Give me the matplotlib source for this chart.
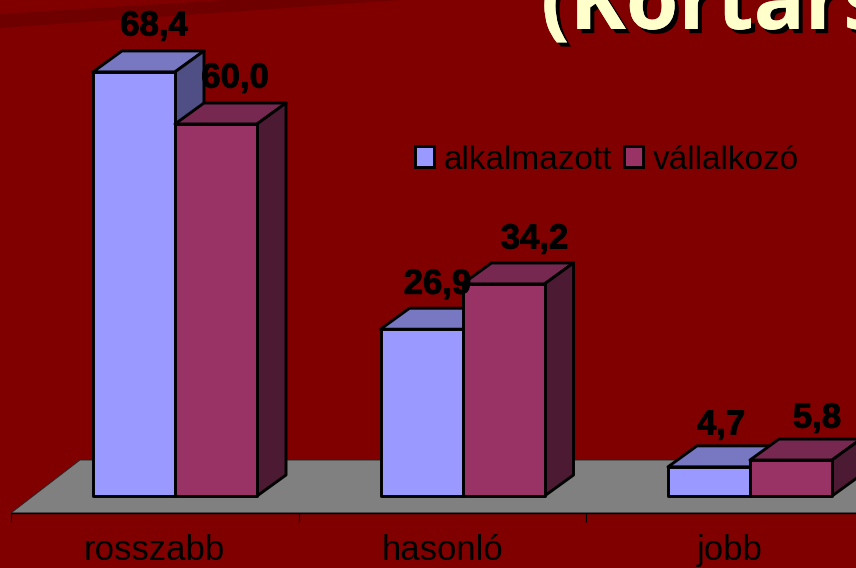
import matplotlib

matplotlib.use("Agg")
import matplotlib.patheffects as pe
import matplotlib.pyplot as plt
from matplotlib.patches import Patch, Polygon

categories = ["rosszabb", "hasonló", "jobb"]
series_names = ["alkalmazott", "vállalkozó"]
alkalmazott = [68.4, 26.9, 4.7]
vallalkozo = [60.0, 34.2, 5.8]
title_text = "(Kortárs"

# pixel scale of the picture
PX_X = 287.5  # px per category
PX_Y = 6.2  # px per value unit
DEPTH_X = 29 / PX_X
DEPTH_Y = 21 / PX_Y
BAR_W = 82 / PX_X

BG = "#800000"
FACES = [
    ("#9999FF", "#7777C2", "#4F4F85"),
    ("#993366", "#772850", "#4C1A33"),
]
# label nudges in px, the original labels are not placed evenly
label_dx = [[20, 19], [16, 31], [12, 26]]
label_dy = [46, 45, 42]

plt.rcParams["font.family"] = ["Liberation Sans", "DejaVu Sans"]

fig = plt.figure(figsize=(8.56, 5.68), dpi=100, facecolor=BG)

# dark band in the slide background, upper left corner
fig.patches.append(
    Polygon(
        [(0, 1 - 14 / 568), (226 / 856, 1), (400 / 856, 1), (0, 1 - 28 / 568)],
        transform=fig.transFigure,
        facecolor="#6E0000",
        edgecolor="none",
        zorder=-1,
    )
)

ax = fig.add_axes([11 / 856, 55 / 568, 845 / 856, 513 / 568])
ax.patch.set_visible(False)
for side in ["top", "left", "right"]:
    ax.spines[side].set_visible(False)
ax.spines["bottom"].set_linewidth(1.0)

# floor
floor_top = 36 / PX_Y
floor_bottom = -17 / PX_Y
ax.add_patch(
    Polygon(
        [
            (0, floor_bottom),
            (69 / PX_X, floor_top),
            (3 + 69 / PX_X, floor_top),
            (3, floor_bottom),
        ],
        facecolor="#808080",
        edgecolor="#222222",
        linewidth=0.6,
        zorder=1,
    )
)


def draw_bar(x, value, faces, zorder):
    x2 = x + BAR_W
    front = [(x, 0), (x2, 0), (x2, value), (x, value)]
    top = [
        (x, value),
        (x2, value),
        (x2 + DEPTH_X, value + DEPTH_Y),
        (x + DEPTH_X, value + DEPTH_Y),
    ]
    side = [
        (x2, 0),
        (x2 + DEPTH_X, DEPTH_Y),
        (x2 + DEPTH_X, value + DEPTH_Y),
        (x2, value),
    ]
    for pts, color in zip([top, side, front], [faces[1], faces[2], faces[0]]):
        ax.add_patch(
            Polygon(
                pts,
                facecolor=color,
                edgecolor="black",
                linewidth=2.1,
                joinstyle="round",
                clip_on=False,
                zorder=zorder,
            )
        )


for i in range(len(categories)):
    for j, values in enumerate([alkalmazott, vallalkozo]):
        x = i + BAR_W * (1 + j)
        draw_bar(x, values[i], FACES[j], 2 + i + j * 0.1)
        ax.text(
            x + BAR_W / 2 + label_dx[i][j] / PX_X,
            values[i] + label_dy[i] / PX_Y,
            f"{values[i]:.1f}".replace(".", ","),
            ha="center",
            va="center",
            fontsize=25,
            fontweight="bold",
            color="black",
            zorder=10,
            path_effects=[pe.withStroke(linewidth=0.7, foreground="black")],
        )

ax.set_xticks([0, 1, 2, 3])
ax.set_xticklabels([])
ax.set_xticks([0.5, 1.5, 2.5], minor=True)
ax.set_xticklabels(categories, minor=True, fontsize=25, color="black")
ax.tick_params(axis="x", which="major", length=6.5, width=0.8, direction="out")
ax.tick_params(axis="x", which="minor", length=0, pad=15)
ax.set_yticks([])
# limits go after the ticks, set_xticks would widen them
ax.set_xlim(0, 845 / PX_X)
ax.set_ylim(-17 / PX_Y, 496 / PX_Y)

handles = [Patch(facecolor=f[0], edgecolor="black", linewidth=2.1) for f in FACES]
fig.legend(
    handles,
    series_names,
    loc="center left",
    bbox_to_anchor=(398 / 856, 1 - 160 / 568),
    ncol=2,
    frameon=False,
    fontsize=24,
    handlelength=0.58,
    handleheight=0.58,
    handletextpad=0.3,
    columnspacing=0.35,
    borderpad=0,
    labelcolor="black",
)

fig.text(
    541 / 856,
    1 - 29 / 568,
    title_text,
    fontsize=61,
    fontweight="bold",
    family=["Open Sans", "DejaVu Sans"],
    color="#FFFFCC",
    ha="left",
    va="baseline",
    path_effects=[
        pe.withSimplePatchShadow(offset=(3, -3), shadow_rgbFace="black", alpha=1),
        pe.Normal(),
    ],
)

fig.savefig("out.png", dpi=100, facecolor=BG)
